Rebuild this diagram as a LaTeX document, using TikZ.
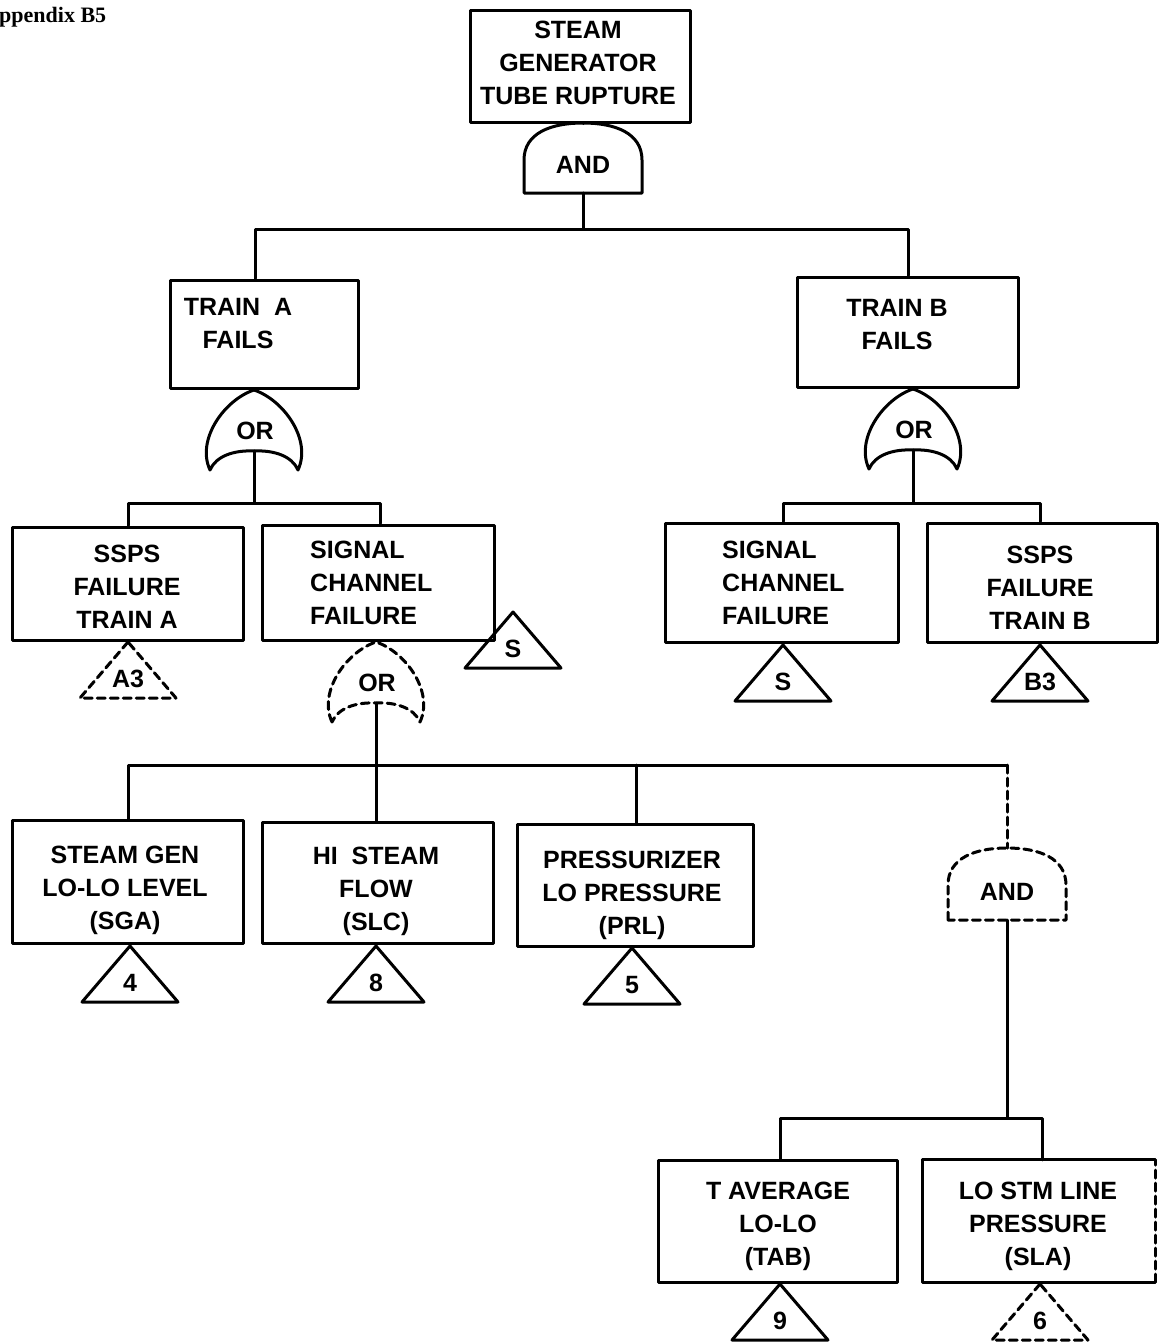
\documentclass[tikz,border=0pt]{standalone}
\usepackage{fontspec}
\setmainfont{Liberation Sans}
\newfontfamily\hdrfont{Liberation Serif}

% AND gate: name, x, y of top, height, extra style
\newcommand\andgate[5]{%
  \begin{scope}[shift={(#2,#3)}]
    \draw[ln,#5] (-59,#4) -- (-59,37) .. controls (-59,10) and (-32,0) .. (0,0)
      .. controls (32,0) and (59,10) .. (59,37) -- (59,#4) -- cycle;
    \coordinate (#1-in) at (0,0);
    \coordinate (#1-out) at (0,#4);
    \node[gtxt] (#1) at (0,#4-28) {AND};
  \end{scope}}

% OR gate: name, x, y of apex, extra style
\newcommand\orgate[4]{%
  \begin{scope}[shift={(#2,#3)}]
    \draw[ln,#4] (-44,80) .. controls (-58,50) and (-30,10) .. (0,0)
      .. controls (30,10) and (58,50) .. (44,80)
      .. controls (38,66) and (20,60) .. (0,61)
      .. controls (-20,60) and (-38,66) .. (-44,80) -- cycle;
    \coordinate (#1-in) at (0,0);
    \coordinate (#1-out) at (0,61);
    \node[gtxt] (#1) at (1,41) {OR};
  \end{scope}}

% transfer triangle: name, x, y of apex, label, extra style
\newcommand\xfer[5]{%
  \begin{scope}[shift={(#2,#3)}]
    \draw[ln,#5] (0,0) -- (-48,56) -- (48,56) -- cycle;
    \coordinate (#1-in) at (0,0);
    \node[ttxt] (#1) at (0,37) {#4};
  \end{scope}}

\begin{document}
\begin{tikzpicture}[x=1pt,y=-1pt,
  ln/.style={line width=3pt, line join=round, line cap=round},
  dsh/.style={dash pattern=on 8pt off 5pt},
  box/.style={ln, draw, inner sep=0pt},
  txt/.style={align=center, font=\bfseries\fontsize{25}{33}\selectfont, inner sep=0pt},
  ltxt/.style={txt, align=left, anchor=west},
  gtxt/.style={font=\bfseries\fontsize{25}{28}\selectfont, inner sep=0pt},
  ttxt/.style={font=\bfseries\fontsize{25}{28}\selectfont, inner sep=0pt},
]
\useasboundingbox (0,0) rectangle (1160,1344);

\node[anchor=base west, inner sep=0pt, font=\hdrfont\bfseries\fontsize{22}{24}\selectfont] (hdr) at (-1,22) {ppendix B5};

% ---- top event
\node[box, minimum width=220pt, minimum height=112pt] (top) at (580,66) {};
\node[txt] (topt) at (578,63) {STEAM\\GENERATOR\\TUBE RUPTURE};
\andgate{andT}{583}{123}{70}{}
\draw[ln] (andT-in |- top.south) -- (andT-in);

% ---- trains
\node[box, minimum width=188pt, minimum height=108pt] (trainA) at (264,334) {};
\node[txt] (trainAt) at (238,324) {TRAIN\ \ A\\FAILS};
\node[box, minimum width=221pt, minimum height=110pt] (trainB) at (907.5,332) {};
\node[txt] (trainBt) at (897,325) {TRAIN B\\FAILS};
\coordinate (b1L) at (255,229);
\coordinate (b1R) at (908,229);
\draw[ln] (andT-out) -- (andT-out |- b1L);
\draw[ln] (b1L |- trainA.north) -- (b1L) -- (b1R) -- (b1R |- trainB.north);

% ---- train A branch
\orgate{orA}{254}{390}{}
\draw[ln] (orA-in |- trainA.south) -- (orA-in);
\node[box, minimum width=231pt, minimum height=113pt] (sspsA) at (127.5,583.5) {};
\node[txt] (sspsAt) at (127,587) {SSPS\\FAILURE\\TRAIN A};
\node[box, minimum width=232pt, minimum height=115pt] (sigA) at (378,582.5) {};
\node[ltxt] (sigAt) at (310,583) {SIGNAL\\CHANNEL\\FAILURE};
\coordinate (b2L) at (128,503);
\coordinate (b2R) at (380,503);
\draw[ln] (orA-out) -- (orA-out |- b2L);
\draw[ln] (b2L |- sspsA.north) -- (b2L) -- (b2R) -- (b2R |- sigA.north);
\xfer{tA3}{128}{642}{A3}{dsh}
\xfer{tSa}{513}{612}{S}{}

% ---- train B branch
\orgate{orB}{913}{389}{}
\draw[ln] (orB-in |- trainB.south) -- (orB-in);
\node[box, minimum width=233pt, minimum height=119pt] (sigB) at (781.5,582.5) {};
\node[ltxt] (sigBt) at (722,583) {SIGNAL\\CHANNEL\\FAILURE};
\node[box, minimum width=230pt, minimum height=119pt] (sspsB) at (1042,582.5) {};
\node[txt] (sspsBt) at (1040,588) {SSPS\\FAILURE\\TRAIN B};
\coordinate (b3L) at (783,503);
\coordinate (b3R) at (1040,503);
\draw[ln] (orB-out) -- (orB-out |- b3L);
\draw[ln] (b3L |- sigB.north) -- (b3L) -- (b3R) -- (b3R |- sspsB.north);
\xfer{tSb}{783}{645}{S}{}
\xfer{tB3}{1040}{645}{B3}{}

% ---- signal channel failure, train A
\orgate{orS}{376}{642}{dsh}
\node[box, minimum width=231pt, minimum height=123pt] (sga) at (127.5,881.5) {};
\node[txt] (sgat) at (125,890) {STEAM GEN\\LO-LO LEVEL\\(SGA)};
\node[box, minimum width=231pt, minimum height=121pt] (slc) at (377.5,882.5) {};
\node[txt] (slct) at (376,891) {HI\ \ STEAM\\FLOW\\(SLC)};
\node[box, minimum width=236pt, minimum height=122pt] (prl) at (635,885) {};
\node[txt] (prlt) at (632,895) {PRESSURIZER\\LO PRESSURE\\(PRL)};
\andgate{andR}{1007}{848}{72}{dsh}
\coordinate (b4L) at (128,765);
\coordinate (b4M) at (636,765);
\coordinate (b4R) at (1007,765);
\draw[ln] (orS-out) -- (orS-out |- b4L);
\draw[ln] (b4L |- sga.north) -- (b4L) -- (b4R);
\draw[ln] (orS-out |- b4L) -- (orS-out |- slc.north);
\draw[ln] (b4M) -- (b4M |- prl.north);
\draw[ln,dsh] (b4R) -- (andR-in);
\xfer{t4}{130}{946}{4}{}
\xfer{t8}{376}{946}{8}{}
\xfer{t5}{632}{948}{5}{}

% ---- steam line branch
\node[box, minimum width=239pt, minimum height=122pt] (tab) at (777.5,1221) {};
\node[txt] (tabt) at (778,1226) {T AVERAGE\\LO-LO\\(TAB)};
\node[minimum width=232pt, minimum height=122pt, inner sep=0pt] (sla) at (1039,1221) {};
\draw[ln] (sla.north east) -- (sla.north west) -- (sla.south west) -- (sla.south east);
\draw[ln,dsh] (sla.south east) -- (sla.north east);
\node[txt] (slat) at (1038,1226) {LO STM LINE\\PRESSURE\\(SLA)};
\coordinate (b5L) at (780,1118);
\coordinate (b5R) at (1042,1118);
\draw[ln] (andR-out) -- (andR-out |- b5L);
\draw[ln] (b5L |- tab.north) -- (b5L) -- (b5R) -- (b5R |- sla.north);
\xfer{t9}{780}{1284}{9}{}
\xfer{t6}{1040}{1284}{6}{dsh}
\end{tikzpicture}
\end{document}
